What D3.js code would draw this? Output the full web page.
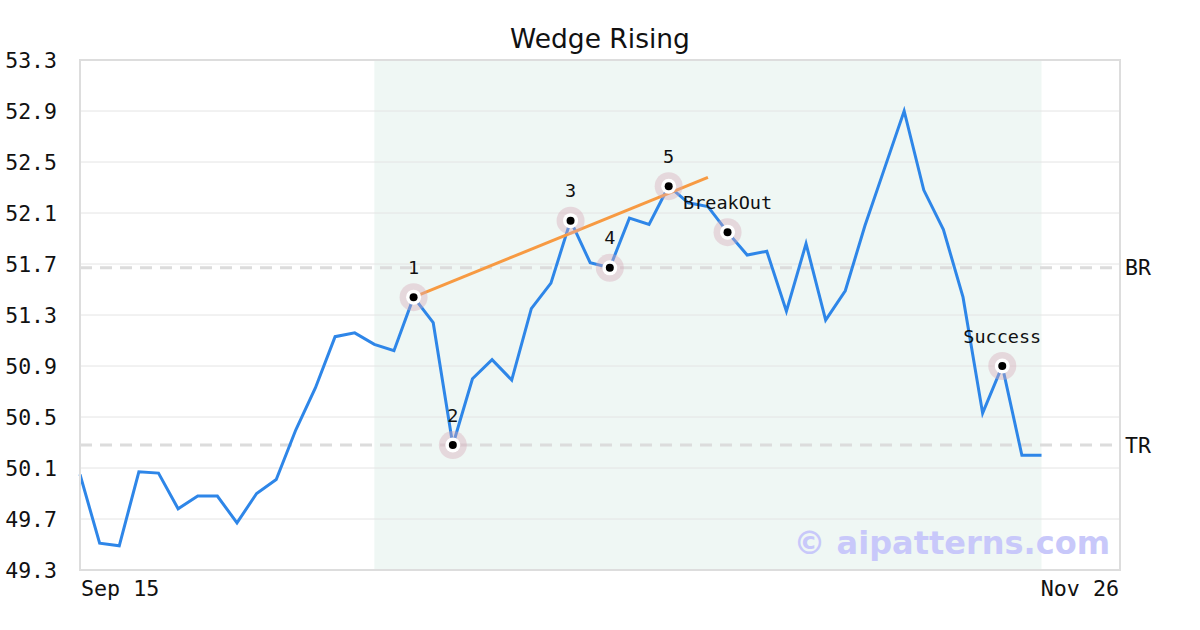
<!DOCTYPE html>
<html><head><meta charset="utf-8">
<script src="https://cdn.jsdelivr.net/npm/d3@7"></script>
<style>body{margin:0;background:#fff}svg{display:block}</style>
</head><body>
<svg id="c" width="1200" height="630"></svg>
<script>
const title = "Wedge Rising";
const prices = [50.05,49.51,49.49,50.07,50.06,49.78,49.88,49.88,49.67,49.90,
  50.01,50.40,50.73,51.13,51.16,51.07,51.02,51.44,51.24,50.28,
  50.80,50.95,50.79,51.35,51.55,52.04,51.71,51.67,52.06,52.01,
  52.31,52.18,52.15,51.95,51.77,51.80,51.33,51.86,51.26,51.49,
  52.00,52.45,52.90,52.28,51.97,51.44,50.53,50.90,50.20,50.20];
const yTicks = [49.3,49.7,50.1,50.5,50.9,51.3,51.7,52.1,52.5,52.9,53.3];
const xTickLabels = ["Sep 15","Nov 26"];
const pointIdx = [17,19,25,27,30,33,47];
const pointLabels = ["1","2","3","4","5","BreakOut","Success"];
const trendIdx = [17,32];
const trendVals = [51.44,52.38];
const levelNames = ["BR","TR"];
const levelVals = [51.67,50.28];
const shadeIdx = [15,49];
const watermark = "© aipatterns.com";

const svg = d3.select("#c");
const L=80,R=1120,T=60,B=570;
const x = d3.scaleLinear().domain([0,53]).range([L,R]);
const y = d3.scaleLinear().domain([49.3,53.3]).range([B,T]);
const mono = "'DejaVu Sans Mono', monospace";

svg.append("rect").attr("x",x(shadeIdx[0])).attr("y",T)
  .attr("width",x(shadeIdx[1])-x(shadeIdx[0])).attr("height",B-T).attr("fill","#eff7f4");

// grid
svg.append("g").selectAll("line").data(yTicks).join("line")
  .attr("x1",L).attr("x2",R).attr("y1",d=>y(d)).attr("y2",d=>y(d))
  .attr("stroke","#e4e4e4").attr("stroke-width",1);

// y labels
svg.append("g").selectAll("text").data(yTicks).join("text")
  .attr("x",57).attr("y",d=>y(d)).attr("text-anchor","end").attr("dominant-baseline","central")
  .attr("font-family",mono).attr("font-size",21.5).attr("fill","#111").text(d=>d.toFixed(1));

// level lines
svg.append("g").selectAll("line").data(levelVals).join("line")
  .attr("x1",L).attr("x2",R).attr("y1",d=>y(d)).attr("y2",d=>y(d))
  .attr("stroke","#dcdcdc").attr("stroke-width",3).attr("stroke-dasharray","12,8");
svg.append("g").selectAll("text").data(levelNames).join("text")
  .attr("x",1125).attr("y",(d,i)=>y(levelVals[i])).attr("dominant-baseline","central")
  .attr("font-family",mono).attr("font-size",21.5).attr("fill","#111").text(d=>d);

// watermark
svg.append("text").attr("x",1110).attr("y",554).attr("text-anchor","end")
  .attr("font-family","'DejaVu Sans', sans-serif").attr("font-weight","bold").attr("font-size",32)
  .attr("fill","#c8c8fa").text(watermark);

// price line
svg.append("path").datum(prices)
  .attr("d",d3.line().x((d,i)=>x(i)).y(d=>y(d)))
  .attr("fill","none").attr("stroke","#2e86e8").attr("stroke-width",3).attr("stroke-linejoin","miter");

// trend line
svg.append("line").attr("x1",x(trendIdx[0])).attr("y1",y(trendVals[0]))
  .attr("x2",x(trendIdx[1])).attr("y2",y(trendVals[1]))
  .attr("stroke","#f79a42").attr("stroke-width",3);

// markers
const mk = svg.append("g").selectAll("g").data(pointIdx).join("g")
  .attr("transform",d=>`translate(${x(d)},${y(prices[d])})`);
mk.append("circle").attr("r",14).attr("fill","rgb(215,170,185)").attr("opacity",0.4);
mk.append("circle").attr("r",7.5).attr("fill","#fff");
mk.append("circle").attr("r",4).attr("fill","#000");
mk.append("text").attr("y",-23.5).attr("text-anchor","middle")
  .attr("font-family",mono).attr("font-size",18.5).attr("fill","#111")
  .text((d,i)=>pointLabels[i]);

// frame
svg.append("rect").attr("x",L).attr("y",T).attr("width",R-L).attr("height",B-T)
  .attr("fill","none").attr("stroke","#dddddd").attr("stroke-width",2);

// x labels
svg.append("text").attr("x",L+1).attr("y",588).attr("dominant-baseline","central")
  .attr("font-family",mono).attr("font-size",21.7).attr("fill","#111").text(xTickLabels[0]);
svg.append("text").attr("x",R-1).attr("y",588).attr("text-anchor","end").attr("dominant-baseline","central")
  .attr("font-family",mono).attr("font-size",21.7).attr("fill","#111").text(xTickLabels[1]);

// title
svg.append("text").attr("x",600).attr("y",48).attr("text-anchor","middle")
  .attr("font-family","'DejaVu Sans', sans-serif").attr("font-size",26.5).attr("fill","#111").text(title);
</script>
</body></html>
